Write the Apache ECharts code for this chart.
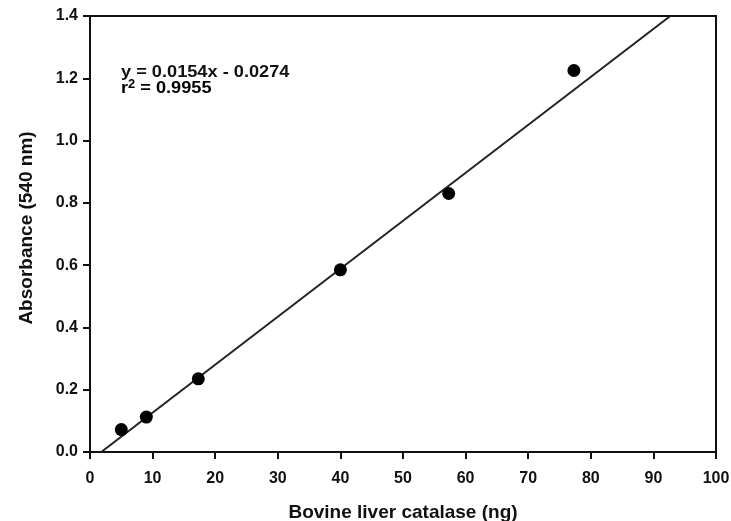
<!DOCTYPE html>
<html>
<head>
<meta charset="utf-8">
<script src="https://cdn.jsdelivr.net/npm/echarts@6/dist/echarts.min.js"></script>
<style>html,body{margin:0;padding:0;background:#fff}#c{width:731px;height:521px}</style>
</head>
<body>
<div id="c"></div>
<script>
var catalaseNg = [5, 9, 17.3, 40, 57.3, 77.3];
var absorbance = [0.072, 0.112, 0.235, 0.585, 0.83, 1.225];
var fitX = [1.8, 92.7];
var fitY = [0, 1.4];
var yTickLabels = ['0.0','0.2','0.4','0.6','0.8','1.0','1.2','1.4'];
var equationText = 'y = 0.0154x - 0.0274';
var r2Text = '0.9955';

var chart = echarts.init(document.getElementById('c'));
var font = '"Liberation Sans", Arial, Helvetica, sans-serif';
chart.setOption({
  animation: false,
  grid: {left: 90, right: 15, top: 16, bottom: 69, containLabel: false, outerBoundsMode: 'none', show: true, borderColor: '#111', borderWidth: 2, backgroundColor: 'transparent'},
  xAxis: {
    type: 'value', min: 0, max: 100, interval: 10,
    name: 'Bovine liver catalase (ng)', nameLocation: 'middle', nameGap: 51,
    nameTextStyle: {fontFamily: font, fontWeight: 'bold', fontSize: 19, color: '#111'},
    axisLine: {show: true, lineStyle: {color: '#111', width: 2}},
    axisTick: {show: true, length: 7, lineStyle: {color: '#111', width: 2}},
    axisLabel: {fontFamily: font, fontWeight: 'bold', fontSize: 16, color: '#111', margin: 19},
    splitLine: {show: false}
  },
  yAxis: {
    type: 'value', min: 0, max: 1.4, interval: 0.2,
    name: 'Absorbance (540 nm)', nameLocation: 'middle', nameGap: 54, nameRotate: 90,
    nameTextStyle: {fontFamily: font, fontWeight: 'bold', fontSize: 19, color: '#111', padding: [0, 0, 0, 12]},
    axisLine: {show: true, lineStyle: {color: '#111', width: 2}},
    axisTick: {show: true, length: 7, lineStyle: {color: '#111', width: 2}},
    axisLabel: {fontFamily: font, fontWeight: 'bold', fontSize: 16, color: '#111', margin: 12,
      formatter: function (v) { return yTickLabels[Math.round(v / 0.2)]; }},
    splitLine: {show: false}
  },
  series: [
    {
      type: 'line', data: fitX.map(function (x, i) { return [x, fitY[i]]; }),
      symbol: 'none', lineStyle: {color: '#222', width: 2}, z: 2
    },
    {
      type: 'scatter', data: catalaseNg.map(function (x, i) { return [x, absorbance[i]]; }),
      symbol: 'circle', symbolSize: 13, itemStyle: {color: '#000', opacity: 1}, z: 3
    }
  ],
  graphic: [
    {type: 'text', x: 121, y: 63.5, scaleX: 1.07, style: {text: equationText, font: 'bold 17px ' + font, fill: '#111'}},
    {type: 'text', x: 121, y: 79, scaleX: 1.07, style: {
      text: '{a|r}{s|2}{a| = ' + r2Text + '}',
      rich: {
        a: {fontFamily: font, fontWeight: 'bold', fontSize: 17, color: '#111'},
        s: {fontFamily: font, fontWeight: 'bold', fontSize: 12, color: '#111', verticalAlign: 'top', padding: [0,0,6,0]}
      }
    }}
  ]
});
</script>
</body>
</html>
